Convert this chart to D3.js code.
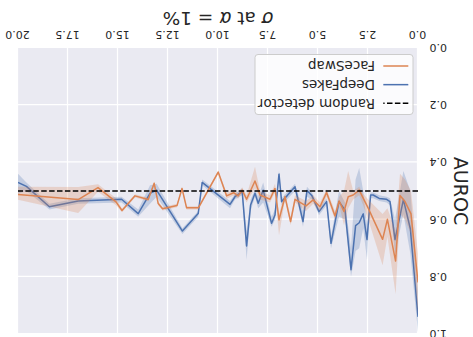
<!DOCTYPE html>
<html>
<head>
<meta charset="utf-8">
<script src="https://cdn.jsdelivr.net/npm/d3@7"></script>
<style>
  html, body { margin: 0; padding: 0; background: #ffffff; }
  svg { display: block; }
</style>
</head>
<body>
<svg id="chart" width="473" height="337"></svg>
<script>
// ---- data: AUROC against noise level sigma (mean with 95% band) ----
const deepfakesSigma = [0.00, 0.38, 0.73, 1.15, 1.40, 1.57, 1.94, 2.24, 2.37, 2.55, 2.74, 2.94, 3.12, 3.35, 3.65, 3.95,
  4.35, 4.57, 4.95, 5.30, 5.55, 5.75, 6.15, 6.55, 6.82, 6.95, 7.15, 7.32, 7.74, 7.99, 8.15, 8.37, 8.57, 8.79, 9.15, 9.40,
  10.79, 10.99, 11.78, 13.07, 13.40, 13.99, 14.82, 16.99, 18.43, 19.58, 20.00];
const deepfakesAuroc = [0.940, 0.633, 0.530, 0.670, 0.537, 0.529, 0.526, 0.514, 0.514, 0.670, 0.580, 0.611, 0.621, 0.775, 0.566, 0.537,
  0.683, 0.537, 0.572, 0.517, 0.498, 0.607, 0.485, 0.517, 0.537, 0.441, 0.584, 0.613, 0.497, 0.543, 0.508, 0.549, 0.692, 0.502, 0.520, 0.547,
  0.470, 0.579, 0.640, 0.497, 0.508, 0.579, 0.529, 0.535, 0.555, 0.484, 0.470];
const deepfakesLow = [0.85, 0.50, 0.43, 0.60, 0.525, 0.52, 0.515, 0.505, 0.505, 0.62, 0.50, 0.42, 0.46, 0.70, 0.54, 0.50,
  0.66, 0.525, 0.56, 0.505, 0.485, 0.57, 0.475, 0.505, 0.525, 0.43, 0.565, 0.59, 0.47, 0.52, 0.495, 0.53, 0.64, 0.49, 0.51, 0.535,
  0.46, 0.57, 0.63, 0.475, 0.48, 0.565, 0.52, 0.525, 0.545, 0.47, 0.44];
const deepfakesHigh = [0.995, 0.72, 0.58, 0.72, 0.55, 0.54, 0.535, 0.525, 0.525, 0.74, 0.63, 0.70, 0.71, 0.80, 0.60, 0.59,
  0.70, 0.55, 0.585, 0.53, 0.52, 0.625, 0.50, 0.53, 0.55, 0.455, 0.60, 0.625, 0.54, 0.56, 0.52, 0.57, 0.74, 0.515, 0.53, 0.56,
  0.48, 0.59, 0.65, 0.52, 0.545, 0.59, 0.54, 0.545, 0.565, 0.50, 0.51];

const faceswapSigma = [0.00, 0.35, 0.65, 0.90, 1.12, 1.53, 1.77, 2.49, 2.74, 2.94, 3.24, 3.49, 3.70, 3.94, 4.15, 4.57,
  4.90, 5.24, 5.60, 6.15, 6.37, 6.65, 6.95, 7.15, 7.40, 7.90, 8.15, 8.57, 8.79, 8.99, 9.22, 9.57, 9.99,
  10.98, 11.57, 11.80, 12.05, 12.77, 12.99, 13.19, 13.49, 14.15, 14.80, 15.10, 16.00, 16.99, 20.00];
const faceswapAuroc = [0.820, 0.580, 0.537, 0.516, 0.745, 0.599, 0.669, 0.560, 0.525, 0.497, 0.514, 0.520, 0.572, 0.535, 0.587, 0.505,
  0.555, 0.531, 0.552, 0.529, 0.607, 0.520, 0.601, 0.491, 0.529, 0.514, 0.465, 0.529, 0.497, 0.517, 0.506, 0.517, 0.434,
  0.559, 0.559, 0.491, 0.551, 0.562, 0.544, 0.473, 0.530, 0.517, 0.568, 0.538, 0.488, 0.530, 0.512];
const faceswapLow = [0.72, 0.50, 0.46, 0.44, 0.64, 0.56, 0.58, 0.53, 0.51, 0.485, 0.50, 0.43, 0.50, 0.52, 0.57, 0.495,
  0.54, 0.515, 0.535, 0.515, 0.59, 0.51, 0.58, 0.475, 0.515, 0.50, 0.415, 0.515, 0.487, 0.507, 0.496, 0.507, 0.428,
  0.553, 0.553, 0.485, 0.545, 0.556, 0.538, 0.467, 0.524, 0.511, 0.562, 0.525, 0.476, 0.486, 0.485];
const faceswapHigh = [0.93, 0.65, 0.60, 0.58, 0.86, 0.66, 0.76, 0.60, 0.55, 0.515, 0.53, 0.56, 0.62, 0.55, 0.60, 0.52,
  0.57, 0.545, 0.57, 0.54, 0.62, 0.53, 0.655, 0.505, 0.54, 0.53, 0.49, 0.54, 0.507, 0.527, 0.516, 0.527, 0.44,
  0.565, 0.565, 0.497, 0.557, 0.568, 0.55, 0.479, 0.536, 0.523, 0.574, 0.55, 0.503, 0.577, 0.531];

const randomLevel = 0.5;
const xTicks = [0, 2.5, 5, 7.5, 10, 12.5, 15, 17.5, 20];
const yTicks = [0, 0.2, 0.4, 0.6, 0.8, 1.0];
const legendLabels = ["Random detector", "DeepFakes", "FaceSwap"];

// ---- layout ----
const W = 473, H = 337;
const plot = { left: 55, right: 455, top: 3, bottom: 289 };
const blue = "#4C72B0", orange = "#DD8452", ink = "#262626";
const font = "'DejaVu Sans', sans-serif";

const svg = d3.select("#chart");
// the whole figure is drawn turned half a revolution
const fig = svg.append("g").attr("transform", `rotate(180 ${W / 2} ${H / 2})`);

const x = d3.scaleLinear().domain([0, 20]).range([plot.left, plot.right]);
const y = d3.scaleLinear().domain([0, 1]).range([plot.bottom, plot.top]);

fig.append("rect")
  .attr("x", plot.left).attr("y", plot.top)
  .attr("width", plot.right - plot.left).attr("height", plot.bottom - plot.top)
  .attr("fill", "#EAEAF2");

// grid + tick labels
const xAxis = fig.append("g")
  .attr("transform", `translate(0,${plot.bottom})`)
  .call(d3.axisBottom(x).tickValues(xTicks).tickFormat(d3.format(".1f"))
    .tickSize(-(plot.bottom - plot.top)).tickPadding(9));
const yAxis = fig.append("g")
  .attr("transform", `translate(${plot.left},0)`)
  .call(d3.axisLeft(y).tickValues(yTicks).tickFormat(d3.format(".1f"))
    .tickSize(-(plot.right - plot.left)).tickPadding(11.5));
[xAxis, yAxis].forEach(g => {
  g.select(".domain").remove();
  g.selectAll(".tick line").attr("stroke", "#ffffff").attr("stroke-width", 1.2);
  g.selectAll(".tick text").attr("fill", ink).attr("font-family", font).attr("font-size", 11);
});

// confidence bands and mean lines
const series = [
  { name: "DeepFakes", color: blue, sigma: deepfakesSigma, mean: deepfakesAuroc, lo: deepfakesLow, hi: deepfakesHigh },
  { name: "FaceSwap", color: orange, sigma: faceswapSigma, mean: faceswapAuroc, lo: faceswapLow, hi: faceswapHigh }
];
fig.append("clipPath").attr("id", "plotClip")
  .append("rect").attr("x", plot.left).attr("y", plot.top)
  .attr("width", plot.right - plot.left).attr("height", plot.bottom - plot.top);
const marks = fig.append("g").attr("clip-path", "url(#plotClip)");

series.forEach(s => {
  const idx = d3.range(s.sigma.length);
  marks.append("path")
    .datum(idx)
    .attr("fill", s.color).attr("fill-opacity", 0.25).attr("stroke", "none")
    .attr("d", d3.area().x(i => x(s.sigma[i])).y0(i => y(s.lo[i])).y1(i => y(s.hi[i])));
  marks.append("path")
    .datum(idx)
    .attr("fill", "none").attr("stroke", s.color).attr("stroke-width", 1.5)
    .attr("stroke-linejoin", "round")
    .attr("d", d3.line().x(i => x(s.sigma[i])).y(i => y(s.mean[i])));
});

marks.append("line")
  .attr("x1", x(0)).attr("x2", x(20))
  .attr("y1", y(randomLevel)).attr("y2", y(randomLevel))
  .attr("stroke", "#000000").attr("stroke-width", 1.5).attr("stroke-dasharray", "5.5,2.4");

// axis titles
const xTitle = fig.append("text")
  .attr("x", (plot.left + plot.right) / 2).attr("y", 325)
  .attr("text-anchor", "middle").attr("font-family", font).attr("font-size", 18.5).attr("fill", ink);
xTitle.append("tspan").attr("font-style", "italic").text("σ");
xTitle.append("tspan").text(" at ");
xTitle.append("tspan").attr("font-style", "italic").text("α");
xTitle.append("tspan").text(" = 1%");

fig.append("text")
  .attr("transform", `translate(19.5,${(plot.top + plot.bottom) / 2}) rotate(-90)`)
  .attr("text-anchor", "middle").attr("font-family", font).attr("font-size", 19).attr("fill", ink)
  .text("AUROC");

// legend
const legend = fig.append("g").attr("transform", "translate(60,222.5)");
legend.append("rect")
  .attr("width", 158).attr("height", 60).attr("rx", 3)
  .attr("fill", "#ffffff").attr("fill-opacity", 0.8)
  .attr("stroke", "#cccccc").attr("stroke-width", 1);
const legendStyles = [
  { color: "#000000", dash: "5.5,2.4" },
  { color: blue, dash: null },
  { color: orange, dash: null }
];
legendLabels.forEach((label, i) => {
  const row = legend.append("g").attr("transform", `translate(0,${11.2 + i * 18.65})`);
  row.append("line").attr("x1", 4.7).attr("x2", 29.7)
    .attr("stroke", legendStyles[i].color).attr("stroke-width", 1.5)
    .attr("stroke-dasharray", legendStyles[i].dash);
  row.append("text").attr("x", 38).attr("dy", "0.35em")
    .attr("font-family", font).attr("font-size", 13.5).attr("fill", ink)
    .text(label);
});
</script>
</body>
</html>
